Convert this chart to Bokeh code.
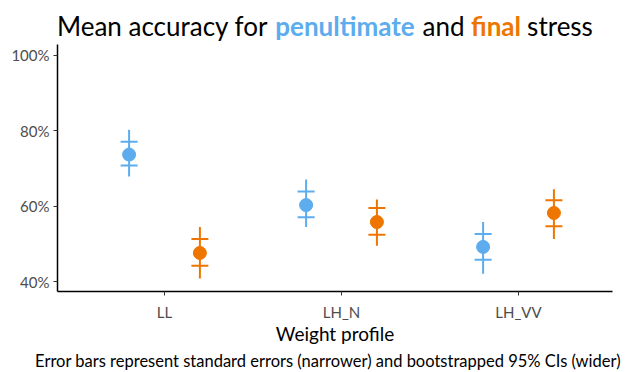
from bokeh.plotting import figure
from bokeh.models import FixedTicker, NumeralTickFormatter, ColumnDataSource, Range1d
from bokeh.layouts import column
from bokeh.core.properties import value
from bokeh.embed import file_html
from bokeh.resources import INLINE

categories = ["LL", "LH_N", "LH_VV"]
cat_pos = [1, 2, 3]
pen_mean = [0.737, 0.603, 0.492]
pen_se_lo = [0.708, 0.571, 0.458]
pen_se_hi = [0.771, 0.639, 0.526]
pen_ci_lo = [0.679, 0.545, 0.421]
pen_ci_hi = [0.803, 0.671, 0.558]
fin_mean = [0.476, 0.558, 0.582]
fin_se_lo = [0.442, 0.524, 0.547]
fin_se_hi = [0.513, 0.595, 0.616]
fin_ci_lo = [0.408, 0.495, 0.513]
fin_ci_hi = [0.545, 0.618, 0.645]
y_ticks = [0.4, 0.6, 0.8, 1.0]
title_words = ["Mean accuracy for", "penultimate", "and", "final", "stress"]
x_title = "Weight profile"
caption = "Error bars represent standard errors (narrower) and bootstrapped 95% CIs (wider)"

BLUE = "#5CACEE"
ORANGE = "#EE7600"
FONT = "Lato"
W = 625


def blank(h):
    f = figure(width=W, height=h, output_backend="svg", toolbar_location=None,
               x_range=Range1d(0, W), y_range=Range1d(h, 0), frame_align=False,
               min_border_left=0, min_border_right=0, min_border_top=0, min_border_bottom=0)
    f.axis.visible = False
    f.grid.visible = False
    f.outline_line_color = None
    return f


# ---- title strip (page rows 0..44) ----
pt = blank(44)
tsrc = ColumnDataSource(dict(
    x=[162, 344.5, 443, 495.5, 559.5],
    y=[25] * 5,
    t=title_words,
    c=["black", BLUE, "black", ORANGE, "black"],
    s=["normal", "bold", "normal", "bold", "normal"],
))
pt.text(x="x", y="y", text="t", text_color="c", text_font_style="s", source=tsrc,
        text_font=value(FONT), text_font_size="26px", text_align="center",
        text_baseline="middle")

# ---- main plot (page rows 44..323) ----
p = figure(width=W, height=279, output_backend="svg", toolbar_location=None,
           x_range=Range1d(0.3955, 3.531), y_range=Range1d(0.3737, 1.029), frame_align=False,
           min_border_left=57, min_border_right=13, min_border_top=0, min_border_bottom=30)
p.outline_line_color = None
p.xgrid.visible = False
p.ygrid.visible = False

dodge = 0.2
for means, slo, shi, clo, chi, col, off in [
    (pen_mean, pen_se_lo, pen_se_hi, pen_ci_lo, pen_ci_hi, BLUE, -dodge),
    (fin_mean, fin_se_lo, fin_se_hi, fin_ci_lo, fin_ci_hi, ORANGE, dodge),
]:
    xs = [c + off for c in cat_pos]
    src = ColumnDataSource(dict(x=xs, m=means, slo=slo, shi=shi, clo=clo, chi=chi))
    p.segment(x0="x", x1="x", y0="clo", y1="chi", source=src, line_color=col, line_width=2)
    p.scatter(x="x", y="slo", source=src, marker="dash", size=17, line_color=col, line_width=2)
    p.scatter(x="x", y="shi", source=src, marker="dash", size=17, line_color=col, line_width=2)
    p.scatter(x="x", y="m", source=src, size=13, fill_color=col, line_color=col)

p.xaxis.ticker = FixedTicker(ticks=cat_pos)
p.xaxis.major_label_overrides = {c: n for c, n in zip(cat_pos, categories)}
p.yaxis.ticker = FixedTicker(ticks=y_ticks)
p.yaxis.formatter = NumeralTickFormatter(format="0%")
for ax in (p.xaxis, p.yaxis):
    ax.axis_line_color = "black"
    ax.axis_line_width = 1.5
    ax.major_tick_line_color = "#333333"
    ax.major_tick_in = 0
    ax.major_tick_out = 4
    ax.minor_tick_line_color = None
    ax.major_label_text_font = FONT
    ax.major_label_text_font_size = "15px"
    ax.major_label_text_color = "#4D4D4D"
    ax.major_label_standoff = 4
p.xaxis.major_label_standoff = 7

# ---- bottom strip: x-axis title and caption (page rows 323..372) ----
pc = blank(49)
csrc = ColumnDataSource(dict(x=[334.5, 327.5], y=[10, 37], t=[x_title, caption],
                             fs=["19px", "16.5px"]))
pc.text(x="x", y="y", text="t", source=csrc, text_font=value(FONT),
        text_font_size="fs", text_color="black", text_align="center",
        text_baseline="middle")

layout = column(pt, p, pc, spacing=0)
open("out.html", "w").write(file_html(layout, INLINE))
